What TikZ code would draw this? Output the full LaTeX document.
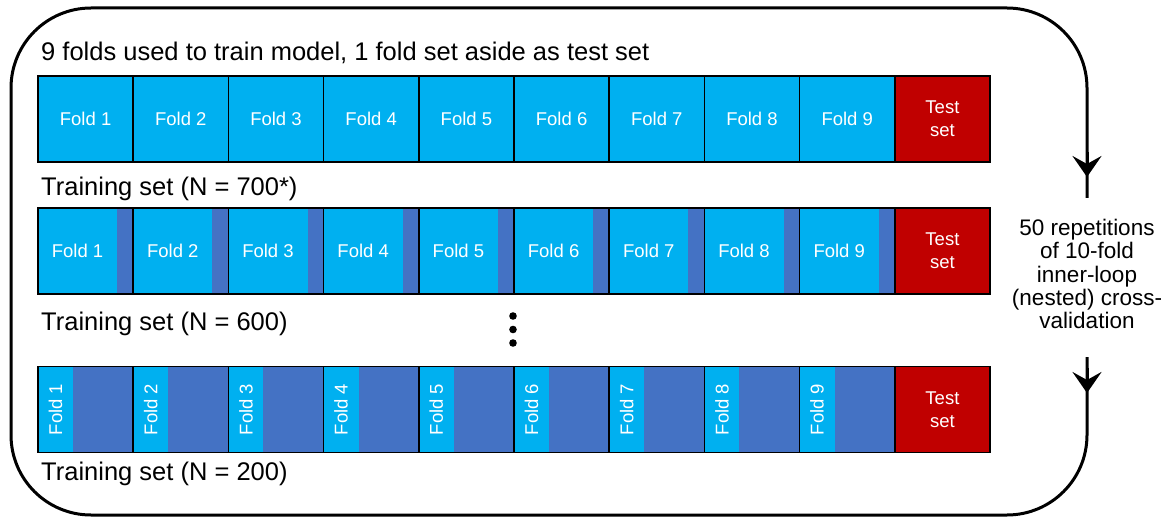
\documentclass[tikz,border=0pt]{standalone}
\usepackage{fontspec}
\setmainfont{Liberation Sans}
\usetikzlibrary{arrows.meta,calc}
\definecolor{foldblue}{HTML}{00B0F0}
\definecolor{holdout}{HTML}{4472C4}
\definecolor{testred}{HTML}{C00000}

\begin{document}
\begin{tikzpicture}[x=1pt,y=-1pt,
  cell/.style={draw=black,line width=1.5pt,minimum width=95.2pt,minimum height=86pt,
    inner sep=0pt,outer sep=0pt},
  fold/.style={cell,fill=foldblue,text=white,font=\fontsize{18.5}{21}\selectfont},
  testcell/.style={cell,fill=testred,text=white,align=center,font=\fontsize{18.5}{23}\selectfont},
  lbl/.style={text=white,inner sep=0pt,font=\fontsize{18.5}{21}\selectfont},
  heading/.style={anchor=west,inner sep=0pt,font=\fontsize{25.5}{29}\selectfont},
  frame/.style={line width=3pt},
  reptext/.style={align=center,inner sep=0pt,font=\fontsize{22.5}{23.4}\selectfont},
  tip/.style={frame,-{Stealth[length=21pt,width=29pt,inset=8pt]}},
]
\useasboundingbox (0,0) rectangle (1169,518);

% outer loop frame, open on the right around the repetition text
\coordinate (ftop) at (1087,198);
\coordinate (fbot) at (1087,357);
\draw[frame,rounded corners=80pt] (ftop) -- (1087,8) -- (11,8) -- (11,515) -- (1087,515) -- (fbot);
\coordinate (tip1) at (1087,177);
\coordinate (tip2) at (1087,393);
\draw[tip] ($(tip1)+(0,-25)$) -- (tip1);
\draw[tip] ($(tip2)+(0,-25)$) -- (tip2);
\node[reptext] (reps) at (1087,274) {50 repetitions\\of 10-fold\\inner-loop\\(nested) cross-\\validation};

% row 1: full training folds
\node[heading] (h1) at (41,53) {9 folds used to train model, 1 fold set aside as test set};
\foreach \i in {1,...,9}
  \node[fold] (r1f\i) at ({38+95.2*(\i-0.5)},119) {Fold \i};
\node[testcell] (r1t) at ({38+95.2*9.5},119) {Test\\set};
\node[heading] (h2) at (41,189) {Training set (N = 700*)};

% row 2: a thin slice of each fold held out
\foreach \i in {1,...,9}{
  \node[cell,fill=foldblue,path picture={
      \fill[holdout] ($(path picture bounding box.north east)+(-16,0)$)
        rectangle (path picture bounding box.south east);}]
    (r2f\i) at ({38+95.2*(\i-0.5)},251) {};
  \node[lbl] (r2l\i) at ($(r2f\i.center)+(-8,0)$) {Fold \i};
}
\node[testcell] (r2t) at ({38+95.2*9.5},251) {Test\\set};
\node[heading] (h3) at (41,324) {Training set (N = 600)};

% ellipsis between rows
\fill (513,316) circle (3.8pt) (513,329.5) circle (3.8pt) (513,343) circle (3.8pt);

% row 3: most of each fold held out
\foreach \i in {1,...,9}{
  \node[cell,fill=foldblue,path picture={
      \fill[holdout] ($(path picture bounding box.north west)+(35,0)$)
        rectangle (path picture bounding box.south east);}]
    (r3f\i) at ({38+95.2*(\i-0.5)},409.5) {};
  \node[lbl,rotate=90] (r3l\i) at ($(r3f\i.center)+(-30.1,0)$) {Fold \i};
}
\node[testcell] (r3t) at ({38+95.2*9.5},409.5) {Test\\set};
\node[heading] (h4) at (41,474) {Training set (N = 200)};
\end{tikzpicture}
\end{document}
